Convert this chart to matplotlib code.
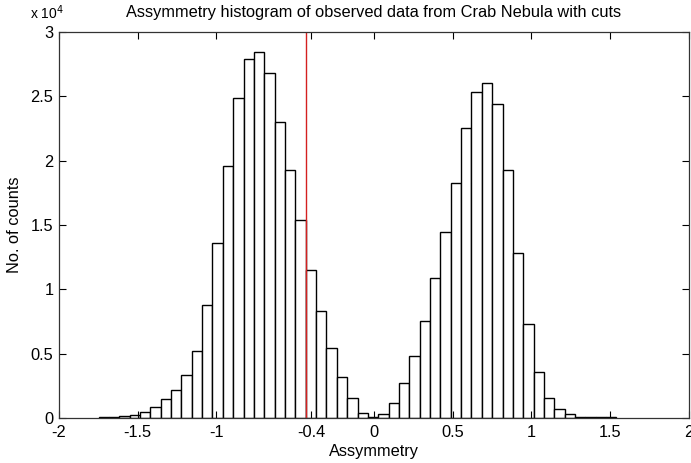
import numpy as np
import matplotlib
matplotlib.use("Agg")
import matplotlib.pyplot as plt
from matplotlib.ticker import FuncFormatter

# Histogram of asymmetry values (50 equal bins between data min and max)
bin_start = -1.749
bin_stop = 1.540
counts = [50, 70, 130, 230, 490, 880, 1450, 2200, 3310, 5240,
          8780, 13620, 19590, 24850, 27930, 28470, 26840, 22980, 19270, 15390,
          11500, 8320, 5420, 3210, 1530, 420, 100, 310, 1140, 2750,
          4800, 7560, 10850, 14470, 18240, 22510, 25360, 26010, 24380, 19270,
          12800, 7310, 3600, 1530, 700, 310, 100, 50, 50, 40]
cut_value = -0.434
x_ticks = [-2, -1.5, -1, -0.4, 0, 0.5, 1, 1.5, 2]
x_tick_labels = ["-2", "-1.5", "-1", "-0.4", "0", "0.5", "1", "1.5", "2"]
y_ticks = [0, 5000, 10000, 15000, 20000, 25000, 30000]

plt.rcParams["font.family"] = ["Liberation Sans", "DejaVu Sans"]
FS = 11.8

fig = plt.figure(figsize=(6.91, 4.63), dpi=100)
ax = fig.add_axes([0.0854, 0.0972, 0.9116, 0.8337])

edges = np.linspace(bin_start, bin_stop, len(counts) + 1)
ax.bar(edges[:-1], counts, width=np.diff(edges), align="edge",
       facecolor="white", edgecolor="black", linewidth=1.0)

ax.axvline(cut_value, color="#d42020", linewidth=1.0)

ax.set_xlim(-2, 2)
ax.set_ylim(0, 30000)
ax.set_xticks(x_ticks)
ax.set_xticklabels(x_tick_labels)
ax.set_yticks(y_ticks)
ax.yaxis.set_major_formatter(FuncFormatter(lambda v, p: f"{v / 1e4:g}"))

ax.tick_params(direction="in", top=True, right=True, length=5, width=0.8,
               labelsize=FS, colors="black")
ax.tick_params(axis="x", pad=5)
ax.tick_params(axis="y", pad=4)
for s in ax.spines.values():
    s.set_linewidth(0.9)
    s.set_color("#333333")

ax.set_title("Assymmetry histogram of observed data from Crab Nebula with cuts",
             fontsize=FS, pad=11)
ax.set_xlabel("Assymmetry", fontsize=FS, labelpad=3)
ax.set_ylabel("No. of counts", fontsize=FS, labelpad=6)
fig.text(0.043, 0.952, r"x 10$^{4}$", fontsize=10, ha="left", va="bottom")

fig.savefig("out.png", dpi=100)
